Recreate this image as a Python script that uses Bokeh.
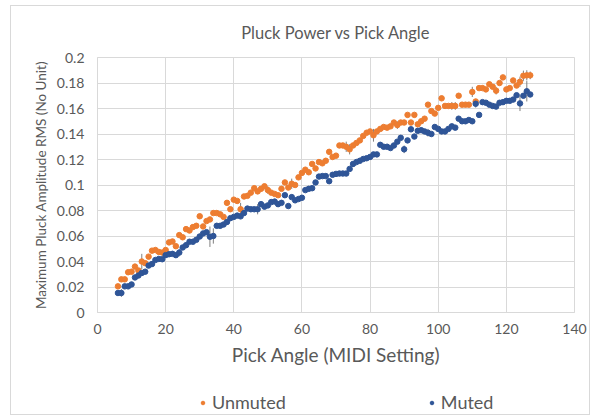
from bokeh.plotting import figure
from bokeh.layouts import column
from bokeh.models import FixedTicker, CustomJSTickFormatter, Range1d, Legend, LegendItem
from bokeh.embed import file_html
from bokeh.resources import INLINE

pick_angle = list(range(6, 128))

unmuted = [
    0.0205, 0.026, 0.026, 0.0316, 0.032, 0.036, 0.033, 0.040, 0.0387, 0.0438,
    0.0485, 0.049, 0.0475, 0.047, 0.049, 0.055, 0.0557, 0.052, 0.0607, 0.059,
    0.0654, 0.0643, 0.067, 0.068, 0.0755, 0.0675, 0.0717, 0.073, 0.078, 0.078,
    0.077, 0.075, 0.086, 0.081, 0.0885, 0.0875, 0.081, 0.091, 0.0915, 0.094,
    0.0975, 0.095, 0.097, 0.099, 0.096, 0.094, 0.093, 0.092, 0.097, 0.102,
    0.098, 0.101, 0.100, 0.106, 0.1095, 0.112, 0.110, 0.1165, 0.113, 0.118,
    0.117, 0.119, 0.126, 0.122, 0.123, 0.131, 0.131, 0.130, 0.128, 0.131,
    0.133, 0.135, 0.1385, 0.141, 0.142, 0.139, 0.142, 0.144, 0.1455, 0.145,
    0.146, 0.149, 0.147, 0.149, 0.149, 0.155, 0.149, 0.155, 0.1476, 0.150,
    0.152, 0.163, 0.158, 0.156, 0.1605, 0.168, 0.162, 0.162, 0.162, 0.162,
    0.170, 0.163, 0.163, 0.163, 0.173, 0.1655, 0.176, 0.176, 0.175, 0.179,
    0.177, 0.174, 0.180, 0.1844, 0.175, 0.176, 0.182, 0.178, 0.181, 0.1857,
    0.186, 0.186,
]

muted = [
    0.0153, 0.0153, 0.0205, 0.0205, 0.022, 0.0275, 0.029, 0.031, 0.032, 0.0368,
    0.038, 0.0412, 0.042, 0.0418, 0.045, 0.0457, 0.046, 0.045, 0.047, 0.051,
    0.0528, 0.0555, 0.0555, 0.057, 0.0596, 0.062, 0.063, 0.0594, 0.060, 0.068,
    0.068, 0.069, 0.071, 0.074, 0.075, 0.076, 0.0754, 0.078, 0.0815, 0.081,
    0.081, 0.081, 0.085, 0.083, 0.084, 0.0866, 0.087, 0.085, 0.086, 0.092,
    0.0835, 0.0905, 0.088, 0.089, 0.090, 0.096, 0.097, 0.0975, 0.102, 0.1066,
    0.107, 0.107, 0.103, 0.108, 0.1087, 0.109, 0.109, 0.109, 0.1126, 0.1165,
    0.118, 0.119, 0.1204, 0.121, 0.122, 0.124, 0.124, 0.1315, 0.130, 0.130,
    0.129, 0.131, 0.134, 0.137, 0.128, 0.135, 0.1437, 0.138, 0.1425, 0.143,
    0.142, 0.141, 0.140, 0.1455, 0.144, 0.142, 0.142, 0.144, 0.146, 0.145,
    0.152, 0.150, 0.150, 0.151, 0.150, 0.1637, 0.155, 0.165, 0.1645, 0.163,
    0.162, 0.1615, 0.1645, 0.165, 0.166, 0.166, 0.167, 0.1704, 0.164, 0.170,
    0.1735, 0.171,
]

# visible error bars (half-heights), by pick angle
err_x_unmuted = [13, 42, 50, 57, 64, 73, 74, 81, 88, 104, 105, 110, 117, 124, 125, 126, 127]
err_unmuted = [0.006, 0.005, 0.003, 0.004, 0.002, 0.004, 0.004, 0.005, 0.003, 0.003, 0.003, 0.004, 0.003, 0.004, 0.004, 0.004, 0.003]
err_x_muted = [7, 24, 33, 34, 47, 90, 97, 111, 124, 126]
err_muted = [0.003, 0.003, 0.008, 0.006, 0.004, 0.003, 0.003, 0.003, 0.006, 0.008]

x_ticks = [0, 20, 40, 60, 80, 100, 120, 140]
y_ticks = [0, 0.02, 0.04, 0.06, 0.08, 0.1, 0.12, 0.14, 0.16, 0.18, 0.2]
series_names = ["Unmuted", "Muted"]

ORANGE = "#ED7D31"
BLUE = "#2F5597"
GRAY_TXT = "#595959"
FONT = "Lato"
W = 578

p = figure(width=W, height=362, output_backend="svg", toolbar_location=None,
           title="Pluck Power vs Pick Angle",
           x_range=Range1d(0, 140), y_range=Range1d(0, 0.2),
           min_border_left=86, min_border_right=15, min_border_top=50, min_border_bottom=10)

p.title.align = "center"
p.title.text_font = FONT
p.title.text_font_size = "16.5px"
p.title.text_font_style = "normal"
p.title.text_color = GRAY_TXT
p.title.standoff = 29

p.outline_line_color = "#d9d9d9"
p.grid.grid_line_color = "#d9d9d9"
p.xgrid.ticker = FixedTicker(ticks=x_ticks)
p.ygrid.ticker = FixedTicker(ticks=y_ticks)

p.xaxis.ticker = FixedTicker(ticks=x_ticks)
p.yaxis.ticker = FixedTicker(ticks=y_ticks)
p.yaxis.formatter = CustomJSTickFormatter(code="return String(parseFloat(tick.toFixed(2)));")
for ax in (p.xaxis, p.yaxis):
    ax.axis_line_color = "#d9d9d9"
    ax.major_tick_line_color = None
    ax.minor_tick_line_color = None
    ax.major_label_text_font = FONT
    ax.major_label_text_font_size = "14px"
    ax.major_label_text_color = GRAY_TXT
    ax.axis_label_text_font = FONT
    ax.axis_label_text_font_style = "normal"
    ax.axis_label_text_color = GRAY_TXT
p.xaxis.axis_label = "Pick Angle (MIDI Setting)"
p.xaxis.axis_label_text_font_size = "19px"
p.xaxis.major_label_standoff = 5
p.xaxis.axis_label_standoff = 6
p.yaxis.axis_label = "Maximum Pluck Amplitude RMS (No Unit)"
p.yaxis.axis_label_text_font_size = "13.5px"
p.yaxis.major_label_standoff = 7
p.yaxis.axis_label_standoff = 5

# error bars
eu_y = [unmuted[pick_angle.index(x)] for x in err_x_unmuted]
em_y = [muted[pick_angle.index(x)] for x in err_x_muted]
p.segment(x0=err_x_unmuted, x1=err_x_unmuted,
          y0=[y - e for y, e in zip(eu_y, err_unmuted)],
          y1=[y + e for y, e in zip(eu_y, err_unmuted)],
          line_color="#7f7f7f", line_width=1)
p.segment(x0=err_x_muted, x1=err_x_muted,
          y0=[y - e for y, e in zip(em_y, err_muted)],
          y1=[y + e for y, e in zip(em_y, err_muted)],
          line_color="#7f7f7f", line_width=1)

p.scatter(pick_angle, unmuted, size=5.5, fill_color=ORANGE, line_color=ORANGE)
p.scatter(pick_angle, muted, size=5.5, fill_color=BLUE, line_color=BLUE)

# legend strip below the chart (its frame is aligned with the chart's frame);
# the proxy renderers hold one point outside the strip's ranges so only the
# legend swatches show
q = figure(width=W, height=46, output_backend="svg", toolbar_location=None,
           x_range=Range1d(0, 1), y_range=Range1d(0, 1),
           x_axis_location=None, y_axis_location=None,
           min_border=0, outline_line_color=None)
q.grid.visible = False
lg_un = q.scatter([-5], [-5], size=4, fill_color=ORANGE, line_color=ORANGE)
lg_mu = q.scatter([-5], [-5], size=4, fill_color=BLUE, line_color=BLUE)
legend = Legend(items=[LegendItem(label=series_names[0], renderers=[lg_un]),
                       LegendItem(label=series_names[1], renderers=[lg_mu])],
                orientation="horizontal", location=(101, 1),
                label_text_font=FONT, label_text_font_size="18px",
                label_text_color=GRAY_TXT, spacing=141,
                glyph_width=9, glyph_height=9, label_standoff=5,
                border_line_color=None,
                background_fill_alpha=0, padding=4, margin=0)
q.add_layout(legend)

layout = column(p, q, spacing=0)
layout.styles = {"border": "1px solid #d9d9d9", "margin-left": "10px", "margin-top": "5px"}

open("out.html", "w").write(file_html(layout, INLINE))
